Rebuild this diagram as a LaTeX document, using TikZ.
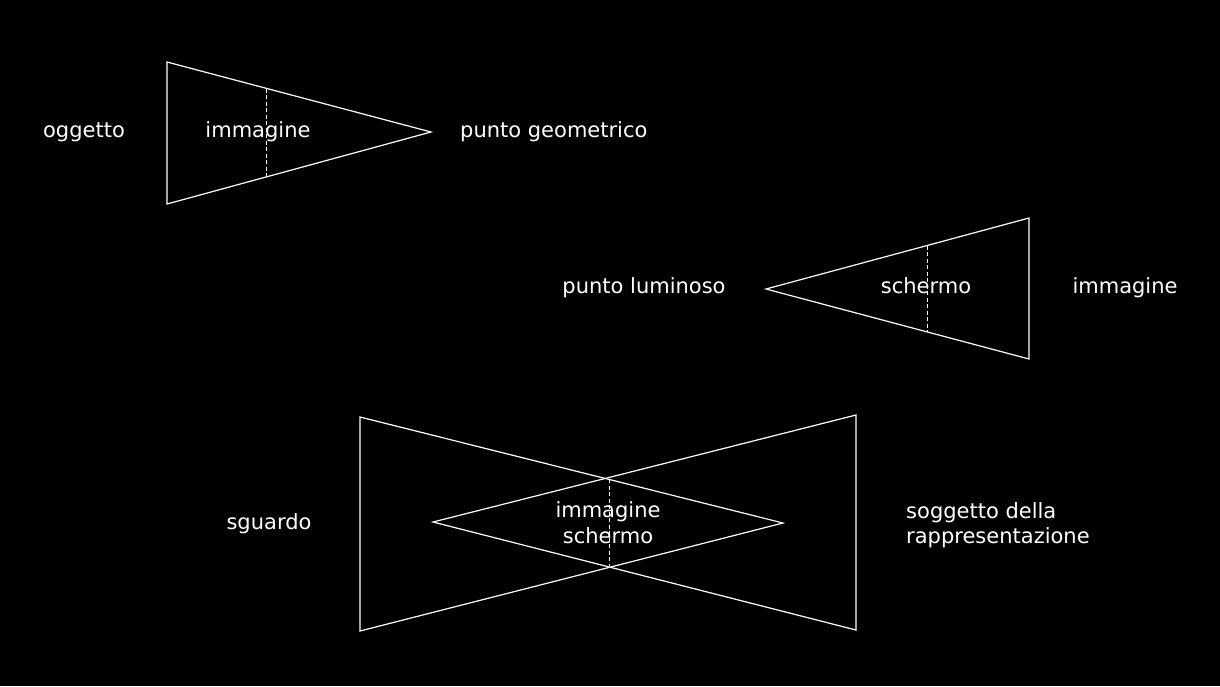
\documentclass[tikz,border=0pt]{standalone}
\usepackage{fontspec}
\setmainfont{DejaVu Sans}
\begin{document}
\begin{tikzpicture}[x=1pt,y=-1pt,
  tri/.style={draw=white,line width=1.2pt,line join=miter},
  screen/.style={draw=white,line width=1pt,dash pattern=on 4pt off 2.5pt},
  lbl/.style={text=white,inner sep=0pt,anchor=base,font=\fontsize{21}{25}\selectfont},
  lbll/.style={lbl,anchor=base west}]
\fill[black] (0,0) rectangle (1220,686);
\useasboundingbox (0,0) rectangle (1220,686);
% figure 1
\coordinate (a1) at (167,62);
\coordinate (a2) at (167,204);
\coordinate (a3) at (431,132);
\draw[tri] (a1) -- (a3) -- (a2) -- cycle;
\coordinate (s1t) at (266,88.5);
\coordinate (s1b) at (266,177);
\draw[screen] (s1t) -- (s1b);
\node[lbl] (ogg) at (84,137) {oggetto};
\node[lbl] (imm1) at (258,137) {immagine};
\node[lbll] (pg) at (460,137) {punto geometrico};
% figure 2
\coordinate (b1) at (766,289);
\coordinate (b2) at (1029,218);
\coordinate (b3) at (1029,359);
\draw[tri] (b1) -- (b2) -- (b3) -- cycle;
\coordinate (s2t) at (927,245.5);
\coordinate (s2b) at (927,331.5);
\draw[screen] (s2t) -- (s2b);
\node[lbl] (pl) at (644,293) {punto luminoso};
\node[lbl] (sch2) at (926,293) {schermo};
\node[lbl] (imm2) at (1125,293) {immagine};
% figure 3
\coordinate (c1) at (360,417);
\coordinate (c2) at (360,631);
\coordinate (c3) at (783,523);
\coordinate (d1) at (856,415);
\coordinate (d2) at (856,630);
\coordinate (d3) at (433,522);
\draw[tri] (c1) -- (c3) -- (c2) -- cycle;
\draw[tri] (d1) -- (d3) -- (d2) -- cycle;
\coordinate (s3t) at (609,479);
\coordinate (s3b) at (609,566);
\draw[screen] (s3t) -- (s3b);
\node[lbl] (imm3) at (608,517) {immagine};
\node[lbl] (sch3) at (608,543) {schermo};
\node[lbl] (sg) at (269,529) {sguardo};
\node[lbll] (sog1) at (906,518) {soggetto della};
\node[lbll] (sog2) at (906,543) {rappresentazione};
\end{tikzpicture}
\end{document}
